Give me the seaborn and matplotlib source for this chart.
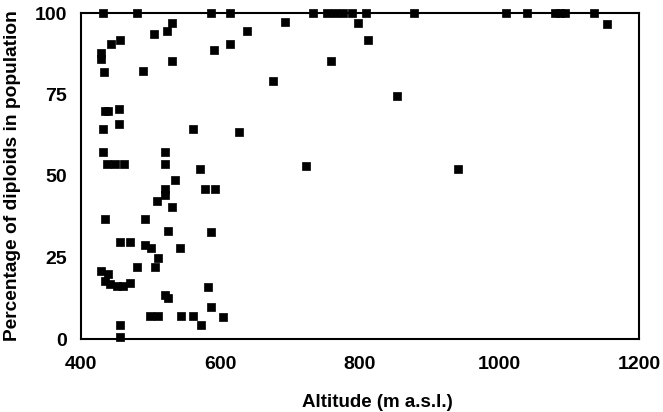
import matplotlib
matplotlib.use("Agg")
import matplotlib.pyplot as plt
import seaborn as sns
import pandas as pd

altitude = [432, 480, 586, 613, 733, 752, 764, 776, 788, 808, 877, 1009, 1040, 1080, 1087, 1094, 1136,
            1154, 530, 523, 505, 638, 613, 591, 531, 489, 456, 443, 428, 428, 433,
            434, 439, 454, 454, 432, 560, 626, 431, 520, 437, 449, 461, 520, 571,
            535, 520, 520, 509, 531, 578, 592, 435, 492, 525, 586, 456, 470, 492, 500,
            542, 510, 506, 481, 429, 439, 434, 442, 451, 460, 470, 582, 520, 525, 586,
            499, 511, 544, 560, 603, 572, 456, 456,
            692, 797, 812, 758, 675, 853, 723, 941]
diploids = [100, 100, 100, 100, 100, 100, 100, 100, 100, 100, 100, 100, 100, 100, 100, 100, 100,
            96.7, 96.9, 94.6, 93.6, 94.5, 90.6, 88.5, 85.3, 82.3, 91.6, 90.6, 87.7, 85.9, 81.9,
            70.0, 70.0, 70.7, 66.0, 64.4, 64.4, 63.6, 57.5, 57.5, 53.8, 53.8, 53.8, 53.8, 52.3,
            48.7, 46.0, 44.2, 42.2, 40.6, 46.0, 46.0, 36.9, 36.9, 33.0, 32.8, 29.7, 29.7, 28.8, 28.0,
            28.0, 24.7, 22.1, 22.1, 20.9, 19.9, 17.8, 17.0, 16.3, 16.3, 17.3, 16.0, 13.6, 12.6, 9.7,
            7.0, 7.0, 7.0, 7.0, 6.9, 4.2, 4.2, 0.5,
            97.1, 96.9, 91.6, 85.2, 79.1, 74.4, 53.0, 52.0]

df = pd.DataFrame({"Altitude": altitude, "Diploids": diploids})

sns.set_style("white")
plt.rcParams["font.family"] = ["Liberation Sans", "DejaVu Sans"]
plt.rcParams["text.color"] = "black"
plt.rcParams["axes.labelcolor"] = "black"
plt.rcParams["xtick.color"] = "black"
plt.rcParams["ytick.color"] = "black"

fig = plt.figure(figsize=(6.63, 4.12), dpi=100)
ax = fig.add_axes([81 / 663, 1 - 339 / 412, (639 - 81) / 663, (339 - 13) / 412])

sns.scatterplot(data=df, x="Altitude", y="Diploids", ax=ax, marker="s", s=36,
                color="black", edgecolor="black", linewidth=0.5, clip_on=False, zorder=3)

ax.set_xlim(400, 1200)
ax.set_ylim(0, 100)
ax.set_xticks([400, 600, 800, 1000, 1200])
ax.set_yticks([0, 25, 50, 75, 100])
ax.tick_params(axis="x", length=0, pad=12, labelsize=14, labelcolor="black")
ax.tick_params(axis="y", length=0, pad=10, labelsize=14, labelcolor="black")
for lab in ax.get_xticklabels() + ax.get_yticklabels():
    lab.set_fontweight("bold")
ax.set_xlabel("Altitude (m a.s.l.)", fontsize=13.5, fontweight="bold", color="black")
ax.xaxis.set_label_coords(0.532, -0.17)
ax.set_ylabel("Percentage of diploids in population", fontsize=13.8, fontweight="bold", color="black")
ax.yaxis.set_label_coords(-0.108, 0.5)
for sp in ax.spines.values():
    sp.set_visible(True)
    sp.set_color("black")
    sp.set_linewidth(1.5)

fig.savefig("out.png", dpi=100)
